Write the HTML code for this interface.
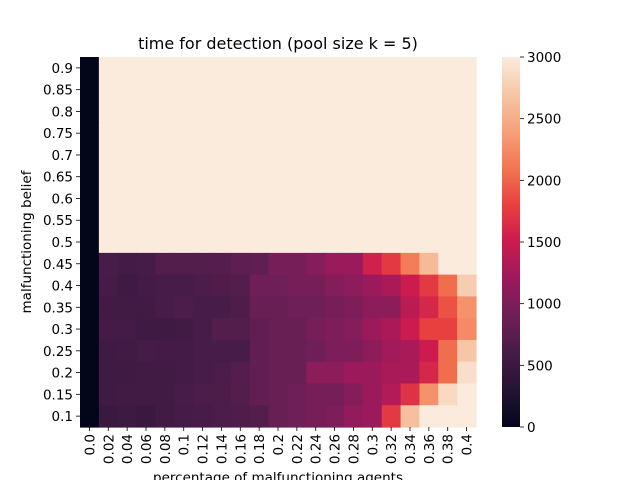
<!DOCTYPE html>
<html><head><meta charset="utf-8"><style>
body{margin:0;background:#fff;}
svg{display:block;font-family:"DejaVu Sans","Liberation Sans",sans-serif;}
</style></head><body>
<svg id="chart" width="640" height="480"></svg>
<script>
const xLabels=["0.0","0.02","0.04","0.06","0.08","0.1","0.12","0.14","0.16","0.18","0.2","0.22","0.24","0.26","0.28","0.3","0.32","0.34","0.36","0.38","0.4"];
const yLabels=["0.9","0.85","0.8","0.75","0.7","0.65","0.6","0.55","0.5","0.45","0.4","0.35","0.3","0.25","0.2","0.15","0.1"];
const full=[0,3000,3000,3000,3000,3000,3000,3000,3000,3000,3000,3000,3000,3000,3000,3000,3000,3000,3000,3000,3000];
const row045=[0,620,580,600,700,700,700,720,780,800,950,950,1050,1200,1200,1550,1750,2150,2600,3000,3000];
const row040=[0,600,540,580,620,620,650,680,700,900,900,950,950,1050,1100,1200,1300,1500,1750,2050,2750];
const row035=[0,560,560,560,620,650,620,620,680,850,850,900,900,950,1000,1100,1100,1400,1600,1900,2300];
const row030=[0,580,580,540,540,560,620,700,700,800,850,850,950,1000,1050,1200,1300,1500,1800,1800,2250];
const row025=[0,540,560,600,580,580,620,620,620,800,850,850,900,1000,1000,1100,1250,1300,1500,2050,2700];
const row020=[0,540,540,560,560,580,620,650,720,800,850,850,1100,1100,1200,1200,1300,1300,1600,2050,2900];
const row015=[0,540,560,560,560,620,650,660,700,800,850,900,950,950,1050,1200,1350,1700,2300,2850,3000];
const row010=[0,500,520,500,560,600,620,650,680,700,850,900,950,1000,1150,1200,1750,2650,3000,3000,3000];
const values=[full,full,full,full,full,full,full,full,full,row045,row040,row035,row030,row025,row020,row015,row010];
const cbTicks=[0,500,1000,1500,2000,2500,3000];
const vmin=0,vmax=3000;

const stops=[[0,[3,5,26]],[0.1,[37,20,50]],[0.2,[69,28,71]],[0.3,[110,31,87]],[0.4,[155,26,92]],[0.5,[203,27,79]],[0.6,[232,63,63]],[0.7,[242,118,81]],[0.8,[245,160,122]],[0.9,[246,199,166]],[1,[250,235,221]]];
function cmap(v){let t=Math.max(0,Math.min(1,(v-vmin)/(vmax-vmin)));
 for(let i=1;i<stops.length;i++){if(t<=stops[i][0]){const [a,ca]=stops[i-1],[b,cb]=stops[i];const f=(t-a)/(b-a);
  return 'rgb('+ca.map((c,k)=>Math.round(c+(cb[k]-c)*f)).join(',')+')';}}
 return 'rgb(250,235,221)';}
const L=80,R=476,T=57,B=427;
const cw=(R-L)/xLabels.length,ch=(B-T)/yLabels.length;
const xPos=i=>L+i*cw, yPos=j=>T+j*ch;
const svg=document.getElementById('chart');const NS='http://www.w3.org/2000/svg';
function mk(tag,attrs,parent){const e=document.createElementNS(NS,tag);for(const k in attrs)e.setAttribute(k,attrs[k]);(parent||svg).appendChild(e);return e;}
const g=mk('g',{});


values.forEach((row,j)=>row.forEach((v,i)=>{
 const r=mk('rect',{x:xPos(i),y:yPos(j),width:cw+0.6,height:ch+0.6,fill:cmap(v)},g);
 
 
}));
xLabels.forEach((lab,i)=>{
 const cx=xPos(i)+cw/2;
 mk('line',{x1:cx,y1:B,x2:cx,y2:B+4,stroke:'#000','stroke-width':0.8});
 const t=mk('text',{x:0,y:0,'font-size':13.5,'text-anchor':'end',transform:`translate(${cx+5},${B+7}) rotate(-90)`});
 t.textContent=lab;
 
 
});
yLabels.forEach((lab,j)=>{
 const cy=yPos(j)+ch/2;
 mk('line',{x1:L-4,y1:cy,x2:L,y2:cy,stroke:'#000','stroke-width':0.8});
 const t=mk('text',{x:L-7,y:cy+5,'font-size':13.5,'text-anchor':'end'});
 t.textContent=lab;
 
 
});
const CL=502,CR=520;
const defs=mk('defs',{});const lg=mk('linearGradient',{id:'cbg',x1:0,y1:1,x2:0,y2:0},defs);
for(let k=0;k<=20;k++){mk('stop',{offset:k/20,'stop-color':cmap(vmin+(vmax-vmin)*k/20)},lg);}
const cb=mk('rect',{x:CL,y:T,width:CR-CL,height:B-T,fill:'url(#cbg)'});


cbTicks.forEach(v=>{const y=B-(v-vmin)/(vmax-vmin)*(B-T);
 mk('line',{x1:CR,y1:y,x2:CR+4,y2:y,stroke:'#000','stroke-width':0.8});
 const t=mk('text',{x:CR+7,y:y+5,'font-size':13.5});t.textContent=v;
 
 
});
const title=mk('text',{x:278,y:49,'font-size':16,'text-anchor':'middle'});title.textContent='time for detection (pool size k = 5)';


const yl=mk('text',{x:0,y:0,'font-size':13.5,'text-anchor':'middle',transform:'translate(31,242) rotate(-90)'});yl.textContent='malfunctioning belief';


const xl=mk('text',{x:278,y:482,'font-size':13.5,'text-anchor':'middle'});xl.textContent='percentage of malfunctioning agents';


</script>
</body></html>
